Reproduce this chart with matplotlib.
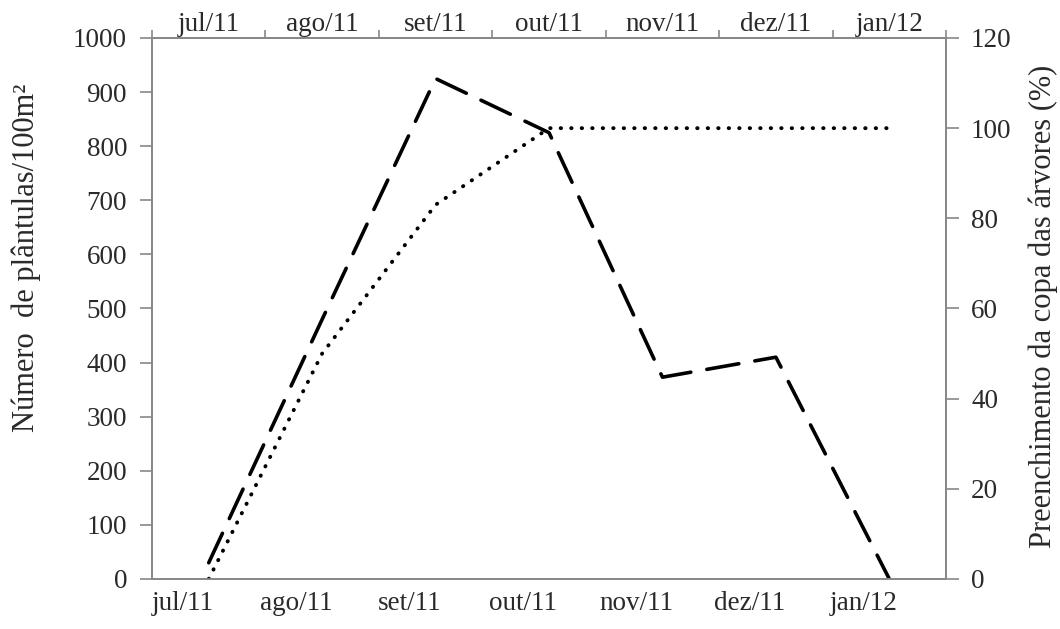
import numpy as np
import matplotlib.pyplot as plt
import matplotlib.transforms as mtransforms

meses = ['jul/11', 'ago/11', 'set/11', 'out/11', 'nov/11', 'dez/11', 'jan/12']
plantulas = [30, 480, 925, 825, 373, 410, 0]
copa = [0, 50, 83, 100, 100, 100, 100]

plt.rcParams['font.family'] = ['Liberation Serif', 'DejaVu Serif']
plt.rcParams['font.size'] = 19.5

cinza = '#888888'
texto = '#2a2a2a'

fig = plt.figure(figsize=(10.6, 6.29), dpi=100)
ax = fig.add_axes([0.1434, 0.0795, 0.7491, 0.8601])
ax2 = ax.twinx()

x = np.arange(len(meses))
ax.plot(x, plantulas, color='black', lw=2.6, dashes=(9, 4.5), dash_capstyle='round')
ax2.plot(x, copa, color='black', lw=2.8, dashes=(0.1, 2.6), dash_capstyle='round')

ax.set_xlim(-0.5, len(meses) - 0.5)
ax.set_ylim(0, 1000)
ax.set_yticks(np.arange(0, 1001, 100))
ax2.set_ylim(0, 120)
ax2.set_yticks(np.arange(0, 121, 20))

for a in (ax, ax2):
    for s in a.spines.values():
        s.set_color(cinza)
        s.set_linewidth(1.3)

ax.tick_params(axis='y', colors=cinza, labelcolor=texto, length=9, width=1.2, pad=9)
ax2.tick_params(axis='y', colors=cinza, labelcolor=texto, length=9, width=1.2, pad=9)

# eixo inferior: sem marcas, rótulos deslocados
ax.set_xticks(x)
ax.set_xticklabels(meses)
ax.tick_params(axis='x', length=0, pad=9, labelcolor=texto)
desloc = mtransforms.ScaledTranslation(-0.26, 0, fig.dpi_scale_trans)
for lab in ax.get_xticklabels():
    lab.set_transform(lab.get_transform() + desloc)

# eixo superior com as mesmas categorias
top = ax.secondary_xaxis('top')
top.set_xticks(x)
top.set_xticklabels(meses)
top.set_xticks(np.arange(-0.5, len(meses)), minor=True)
top.tick_params(axis='x', which='major', length=0, pad=1, labelcolor=texto)
top.tick_params(axis='x', which='minor', length=6, width=1.2, color=cinza)
top.spines['top'].set_color(cinza)
top.spines['top'].set_linewidth(1.3)

# títulos dos eixos
fig.text(0.025, 0.59, 'Número  de plântulas/100m²', rotation=90,
         ha='center', va='center', fontsize=22, color=texto)
fig.text(0.984, 0.513, 'Preenchimento da copa das árvores (%)', rotation=90,
         ha='center', va='center', fontsize=22, color=texto)

fig.savefig('out.png', dpi=100)
